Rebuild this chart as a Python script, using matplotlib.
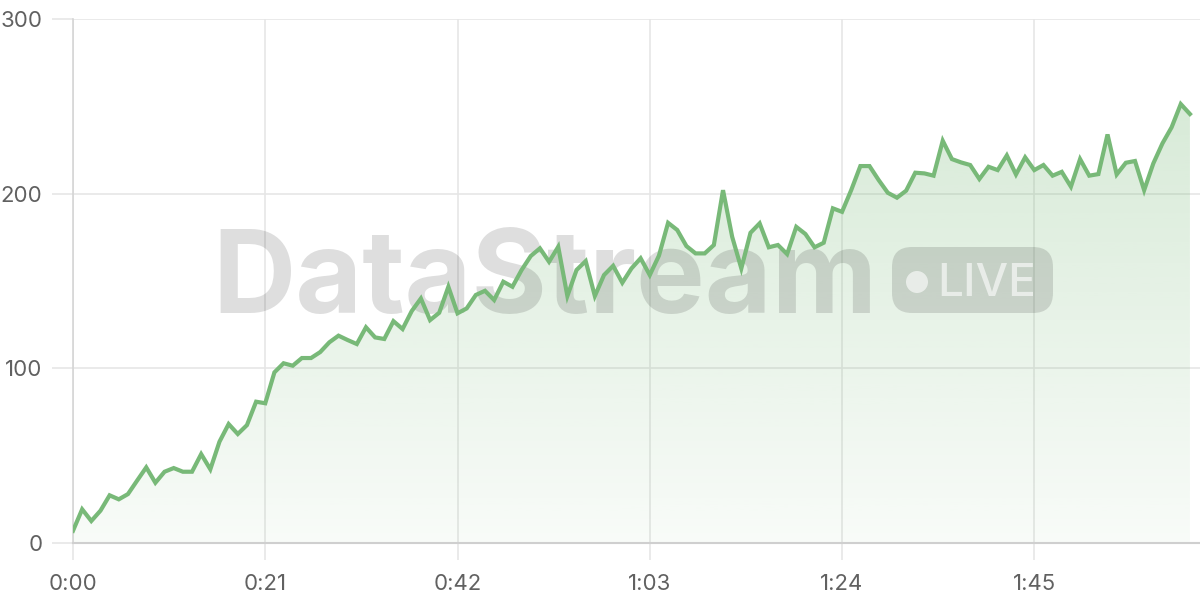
import numpy as np
import matplotlib
matplotlib.use("Agg")
import matplotlib.pyplot as plt
from matplotlib.patches import FancyBboxPatch, Circle
from matplotlib.ticker import FuncFormatter

plt.rcParams['font.family'] = ['Inter', 'DejaVu Sans']

# seconds since start, one reading per second
values = [
    7, 19.3, 12.6, 18.5, 27.3, 25, 28, 35.7, 43.3, 34.5,
    40.8, 42.9, 40.8, 40.8, 50.9, 42.2, 58, 68.1, 62.4, 67.5,
    80.9, 80, 97.7, 102.9, 101.5, 105.9, 105.9, 109.3, 114.9, 118.7,
    116.2, 113.9, 123.5, 117.7, 116.8, 127, 122.5, 132.8, 140, 127.6,
    131.8, 146.7, 131.5, 134.3, 142, 144.4, 139.1, 149.6, 146.7, 156.3,
    164.3, 168.7, 161, 169.6, 141.4, 156.3, 161.4, 141.4, 153.4, 158.7,
    149, 157.2, 163, 153.4, 164.5, 183.3, 179.2, 170, 165.8, 165.8,
    170.6, 202, 175.3, 157.2, 177.6, 183, 169.3, 170.6, 165.4, 181,
    176.9, 169.3, 171.9, 191.6, 189.6, 202, 215.8, 215.8, 207.8, 200.5,
    197.7, 201.7, 212, 211.6, 210.3, 230.3, 219.8, 217.9, 216.4, 208.4,
    215.4, 213.5, 221.9, 211, 220.8, 213.5, 216.4, 210.3, 212.5, 204,
    219.8, 210.3, 211.2, 233.9, 211, 217.7, 218.7, 202, 217.3, 228.8,
    238, 251.3, 245.6,
]
seconds = np.arange(len(values))
x_ticks = [0, 21, 42, 63, 84, 105]
y_ticks = [0, 100, 200, 300]

line_col = '#78b978'
text_col = '#616161'
grid_col = '#e6e6e6'

fig = plt.figure(figsize=(12, 6), dpi=100)
ax = fig.add_axes([73 / 1200, 57 / 600, 1 - 73 / 1200, (543 - 19) / 600])
ax.set_xlim(0, 123.1)
ax.set_ylim(0, 300)

# gradient area under the line
poly = ax.fill_between(seconds, values, 0, color='none', lw=0)
grad = np.zeros((256, 1, 4))
grad[:, 0, 0] = 120 / 255
grad[:, 0, 1] = 185 / 255
grad[:, 0, 2] = 120 / 255
grad[:, 0, 3] = np.linspace(0.30, 0.05, 256)
img = ax.imshow(grad, aspect='auto', extent=[0, seconds[-1], 0, 260],
                origin='upper', zorder=1)
img.set_clip_path(poly.get_paths()[0], transform=ax.transData)

ax.plot(seconds, values, color=line_col, lw=3, zorder=5, solid_joinstyle='miter')

ax.set_xticks(x_ticks)
ax.set_yticks(y_ticks)
ax.xaxis.set_major_formatter(FuncFormatter(lambda v, p: f"{int(v) // 60}:{int(v) % 60:02d}"))
ax.grid(True, color=grid_col, lw=1.2, zorder=0)
ax.set_axisbelow(True)
for s in ['top', 'right']:
    ax.spines[s].set_visible(False)
ax.spines['left'].set_color('#d5d5d5')
ax.spines['bottom'].set_color('#cfcfcf')
ax.spines['left'].set_linewidth(1.2)
ax.spines['bottom'].set_linewidth(1.5)
ax.tick_params(axis='y', length=15, width=1.2, color=grid_col, pad=7,
               labelsize=16, labelcolor=text_col)
ax.tick_params(axis='x', length=12, width=1.2, color=grid_col, pad=10,
               labelsize=16, labelcolor=text_col)

# watermark, between the area and the line
ax.text(212 / 1200, 1 - 313 / 600, 'DataStream', fontsize=83, fontweight='bold',
        color='black', alpha=0.13, ha='left', va='baseline', zorder=3,
        transform=fig.transFigure, clip_on=False)
pill = FancyBboxPatch((8.92 + 0.2, 2.87 + 0.2), 1.61 - 0.4, 0.66 - 0.4,
                      boxstyle='round,pad=0.2', transform=fig.dpi_scale_trans,
                      facecolor='black', edgecolor='none', alpha=0.13, zorder=3,
                      clip_on=False)
ax.add_artist(pill)
dot = Circle((9.17, 6 - 2.82), 0.11, transform=fig.dpi_scale_trans,
             facecolor='white', edgecolor='none', alpha=0.6, zorder=4, clip_on=False)
ax.add_artist(dot)
ax.text(937 / 1200, 1 - 296 / 600, 'LIVE', fontsize=33, fontweight='medium',
        color='white', alpha=0.6, ha='left', va='baseline', zorder=4,
        transform=fig.transFigure, clip_on=False)

fig.savefig('out.png', dpi=100)
